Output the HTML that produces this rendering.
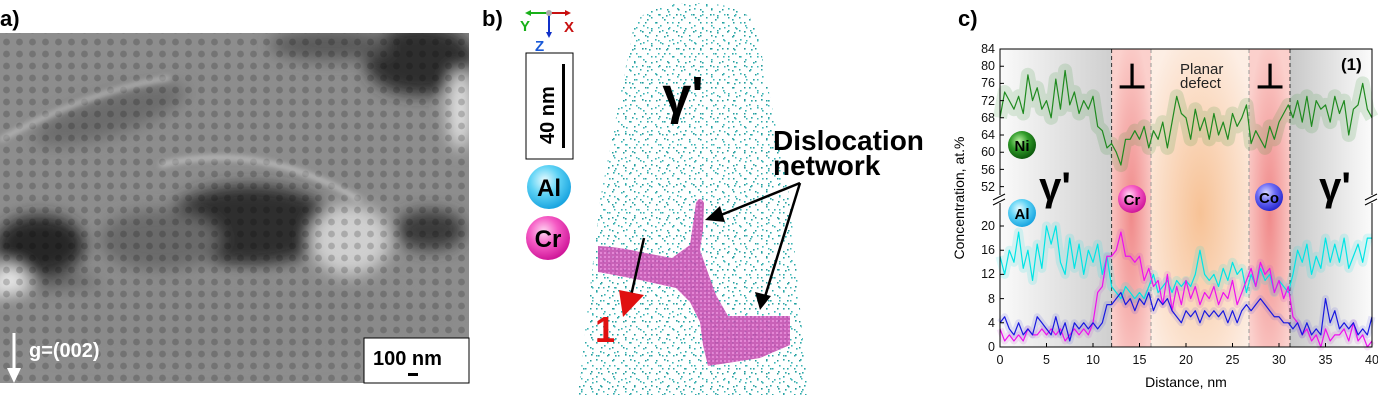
<!DOCTYPE html>
<html><head><meta charset="utf-8"><style>
html,body{margin:0;padding:0;background:#fff;}
svg{display:block;font-family:"Liberation Sans",Arial,sans-serif;}
</style></head><body>
<svg width="1378" height="403" viewBox="0 0 1378 403" xmlns="http://www.w3.org/2000/svg">
<defs>
 <filter id="bl" x="-50%" y="-50%" width="200%" height="200%"><feGaussianBlur stdDeviation="8"/></filter>
 <filter id="bl2" x="-50%" y="-50%" width="200%" height="200%"><feGaussianBlur stdDeviation="3"/></filter>
 <pattern id="pits" width="13" height="12" patternUnits="userSpaceOnUse">
  <circle cx="6.5" cy="6" r="3.4" fill="#000" opacity="0.18"/>
 </pattern>
 <pattern id="d1" width="17" height="17" patternUnits="userSpaceOnUse">
  <rect x="1" y="2" width="1.6" height="1.6" fill="#2aa7a7"/><rect x="9" y="5" width="1.6" height="1.6" fill="#3bb5b5"/>
  <rect x="5" y="11" width="1.6" height="1.6" fill="#2aa7a7"/><rect x="13" y="14" width="1.6" height="1.6" fill="#1f9a9a"/>
  <rect x="14" y="8" width="1.6" height="1.6" fill="#3bb5b5"/><rect x="3" y="15" width="1.6" height="1.6" fill="#2aa7a7"/>
 </pattern>
 <pattern id="d2" width="11" height="13" patternUnits="userSpaceOnUse">
  <rect x="2" y="4" width="1.5" height="1.5" fill="#2aa7a7"/><rect x="7" y="9" width="1.5" height="1.5" fill="#1f9a9a"/>
  <rect x="9" y="1" width="1.5" height="1.5" fill="#3bb5b5"/>
 </pattern>
 <pattern id="mesh" width="4" height="4" patternUnits="userSpaceOnUse">
  <rect width="4" height="4" fill="#c34fb0"/><rect width="2" height="2" fill="#e07ad0"/>
 </pattern>
 <radialGradient id="gAl" cx="40%" cy="35%" r="65%"><stop offset="0" stop-color="#e8fbff"/><stop offset="0.5" stop-color="#5fd3f5"/><stop offset="1" stop-color="#1aa5e0"/></radialGradient>
 <radialGradient id="gCr" cx="40%" cy="35%" r="65%"><stop offset="0" stop-color="#ffd8f3"/><stop offset="0.5" stop-color="#f55ac4"/><stop offset="1" stop-color="#d0189a"/></radialGradient>
 <radialGradient id="gNi" cx="40%" cy="35%" r="65%"><stop offset="0" stop-color="#b8f0a0"/><stop offset="0.5" stop-color="#2f9a28"/><stop offset="1" stop-color="#0c5a0c"/></radialGradient>
 <radialGradient id="gCo" cx="40%" cy="35%" r="65%"><stop offset="0" stop-color="#d8d8ff"/><stop offset="0.5" stop-color="#6a6af5"/><stop offset="1" stop-color="#2a2ad0"/></radialGradient>
 <linearGradient id="gl" x1="0" x2="1"><stop offset="0" stop-color="#fafafa"/><stop offset="1" stop-color="#cfcfcf"/></linearGradient>
 <linearGradient id="gr" x1="0" x2="1"><stop offset="0" stop-color="#c8c8c8"/><stop offset="1" stop-color="#fbfbfb"/></linearGradient>
 <radialGradient id="gpink" cx="50%" cy="55%" r="60%"><stop offset="0" stop-color="#f08a8a"/><stop offset="1" stop-color="#fbd0cc"/></radialGradient>
 <radialGradient id="gpeach" cx="50%" cy="55%" r="65%"><stop offset="0" stop-color="#f7c296"/><stop offset="1" stop-color="#fdeee4"/></radialGradient>
 <clipPath id="cone"><path d="M633,30 Q640,3 695,3 Q750,3 757,30 L790,200 L808,395 L578,395 L600,200 Z"/></clipPath>
 <clipPath id="pa"><rect x="0" y="33" width="469" height="350"/></clipPath>
</defs>

<!-- Panel a -->
<text x="0" y="26" font-size="22" font-weight="bold">a)</text>
<g clip-path="url(#pa)">
 <rect x="0" y="33" width="469" height="350" fill="#8d8d8d"/>
 <g filter="url(#bl)">
  <ellipse cx="420" cy="60" rx="55" ry="35" fill="#2e2e2e"/>
  <ellipse cx="330" cy="45" rx="60" ry="15" fill="#5a5a5a"/>
  <ellipse cx="460" cy="110" rx="12" ry="40" fill="#e0e0e0"/>
  <ellipse cx="110" cy="115" rx="80" ry="20" fill="#6c6c6c" transform="rotate(-18 110 115)"/>
  <ellipse cx="250" cy="225" rx="85" ry="40" fill="#2e2e2e"/>
  <ellipse cx="40" cy="245" rx="45" ry="30" fill="#252525"/>
  <ellipse cx="70" cy="290" rx="40" ry="12" fill="#1e1e1e"/>
  <ellipse cx="10" cy="290" rx="20" ry="25" fill="#e8e8e8"/>
  <ellipse cx="350" cy="240" rx="40" ry="35" fill="#cfcfcf"/>
  <ellipse cx="160" cy="240" rx="60" ry="30" fill="#6a6a6a"/>
  <ellipse cx="430" cy="230" rx="35" ry="20" fill="#3a3a3a"/>
  <ellipse cx="200" cy="320" rx="260" ry="40" fill="#8a8a8a"/>
 </g>
 <rect x="0" y="33" width="469" height="350" fill="url(#pits)"/>
 <path d="M0,140 Q90,90 170,78" stroke="#d0d0d0" stroke-width="3" fill="none" filter="url(#bl2)"/>
 <path d="M160,165 Q260,140 360,200" stroke="#d8d8d8" stroke-width="3" fill="none" filter="url(#bl2)"/>
</g>
<path d="M14,333 V380" stroke="#fff" stroke-width="3"/>
<path d="M7,368 L14,383 L21,368 Z" fill="#fff"/>
<text x="29" y="357" font-size="20" font-weight="bold" fill="#fff">g=(002)</text>
<rect x="364" y="338" width="105" height="45" fill="#fff" stroke="#000" stroke-width="1"/>
<text x="373" y="365" font-size="20" font-weight="bold">100 nm</text>
<rect x="408" y="373" width="10" height="3" fill="#000"/>

<!-- Panel b -->
<text x="482" y="26" font-size="22" font-weight="bold">b)</text>
<g stroke-width="2">
 <path d="M549,13 H528" stroke="#18b018"/><path d="M525,13 l6,-3 v6z" fill="#18b018"/>
 <path d="M549,13 H567" stroke="#c81010"/><path d="M571,13 l-6,-3 v6z" fill="#c81010"/>
 <path d="M549,13 V33" stroke="#1030c8"/><path d="M549,38 l-3,-6 h6z" fill="#1030c8"/>
 <circle cx="549" cy="13" r="3" fill="#aaa"/>
</g>
<text x="520" y="31" font-size="15" font-weight="bold" fill="#18b018">Y</text>
<text x="564" y="32" font-size="15" font-weight="bold" fill="#c81010">X</text>
<text x="535" y="51" font-size="15" font-weight="bold" fill="#1a5ad8">Z</text>
<rect x="526" y="53" width="47" height="106" fill="#fff" stroke="#000" stroke-width="1"/>
<rect x="562" y="64" width="3" height="84" fill="#000"/>
<text transform="translate(554,144) rotate(-90)" font-size="20" font-weight="bold">40 nm</text>
<circle cx="549" cy="187" r="22" fill="url(#gAl)"/>
<text x="549" y="196" font-size="24" font-weight="bold" text-anchor="middle">Al</text>
<circle cx="548" cy="238" r="22" fill="url(#gCr)"/>
<text x="548" y="247" font-size="24" font-weight="bold" text-anchor="middle">Cr</text>
<g clip-path="url(#cone)">
 <rect x="570" y="0" width="250" height="400" fill="url(#d1)"/>
 <rect x="570" y="0" width="250" height="400" fill="url(#d2)"/>
</g>
<path d="M598,246 Q620,247 640,252 L672,258 L690,245 L696,203 Q700,195 704,203 L703,230 L700,250 L707,270 L716,295 L728,316 L790,316 L790,345 L760,358 L708,366 L703,345 L700,322 L690,302 L676,288 L640,280 Q615,275 598,272 Z" fill="url(#mesh)" opacity="0.9"/>
<text x="683" y="113" font-size="52" font-weight="bold" text-anchor="middle">γ'</text>
<text x="773" y="150" font-size="28" font-weight="bold">Dislocation</text>
<text x="773" y="175" font-size="28" font-weight="bold">network</text>
<g stroke="#000" stroke-width="2.5" fill="none">
 <path d="M800,183 L716,217"/><path d="M800,183 L764,300"/><path d="M644,238 L631,296"/>
</g>
<path d="M705,220 L720,206 L725,222 Z" fill="#000"/>
<path d="M760,310 L755,292 L771,296 Z" fill="#000"/>
<path d="M623,317 L619,290 L644,295 Z" fill="#e01010"/>
<text x="595" y="342" font-size="36" font-weight="bold" fill="#e01010">1</text>

<!-- Panel c -->
<text x="958" y="26" font-size="22" font-weight="bold">c)</text>
<rect x="1000" y="49" width="111.6" height="298" fill="url(#gl)"/>
<rect x="1111.6" y="49" width="39.5" height="298" fill="url(#gpink)"/>
<rect x="1151" y="49" width="98" height="298" fill="url(#gpeach)"/>
<rect x="1249" y="49" width="41" height="298" fill="url(#gpink)"/>
<rect x="1290" y="49" width="82" height="298" fill="url(#gr)"/>
<g stroke-dasharray="4,3" stroke-width="1">
 <path d="M1111.6,49 V347" stroke="#333"/><path d="M1151,49 V347" stroke="#999"/>
 <path d="M1249,49 V347" stroke="#999"/><path d="M1290,49 V347" stroke="#333"/>
</g>
<g transform="translate(1000,49) scale(9.3,-4.3) translate(0,-84)" fill="none" stroke-linejoin="round">
 <polyline vector-effect="non-scaling-stroke" stroke="#2a8a2a" stroke-opacity="0.15" stroke-width="14" points="0,68 0.5,74 1,72 1.5,70 2,73 2.5,69 3,78 3.5,72 4,75 4.5,70 5,72 5.5,68 6,77 6.5,70 7,79 7.5,71 8,74 8.5,69 9,72 9.5,70 10,73 10.5,66 11,65 11.5,61 12,62 12.5,60 13,57 13.5,63 14,63 14.5,65 15,63 15.5,66 16,61 16.5,65 17,63 17.5,67 18,61 18.5,67 19,73 19.5,69 20,68 20.5,63 21,70 21.5,65 22,68 22.5,63 23,69 23.5,64 24,67 24.5,63 25,69 25.5,66 26,68 26.5,71 27,62 27.5,65 28,63 28.5,61 29,66 29.5,63 30,67 30.5,69 31,71 31.5,68 32,72 32.5,67 33,73 33.5,66 34,72 34.5,70 35,71 35.5,67 36,73 36.5,69 37,72 37.5,64 38,70 38.5,71 39,76 39.5,70 40,68"/>
 <polyline vector-effect="non-scaling-stroke" stroke="#1f8a1f" stroke-width="1.2" points="0,68 0.5,74 1,72 1.5,70 2,73 2.5,69 3,78 3.5,72 4,75 4.5,70 5,72 5.5,68 6,77 6.5,70 7,79 7.5,71 8,74 8.5,69 9,72 9.5,70 10,73 10.5,66 11,65 11.5,61 12,62 12.5,60 13,57 13.5,63 14,63 14.5,65 15,63 15.5,66 16,61 16.5,65 17,63 17.5,67 18,61 18.5,67 19,73 19.5,69 20,68 20.5,63 21,70 21.5,65 22,68 22.5,63 23,69 23.5,64 24,67 24.5,63 25,69 25.5,66 26,68 26.5,71 27,62 27.5,65 28,63 28.5,61 29,66 29.5,63 30,67 30.5,69 31,71 31.5,68 32,72 32.5,67 33,73 33.5,66 34,72 34.5,70 35,71 35.5,67 36,73 36.5,69 37,72 37.5,64 38,70 38.5,71 39,76 39.5,70 40,68"/>
</g>
<g transform="translate(1000,347) scale(9.3,-6.05)" fill="none" stroke-linejoin="round">
 <polyline vector-effect="non-scaling-stroke" stroke="#00e0e0" stroke-opacity="0.14" stroke-width="9" points="0,15 0.5,12 1,16 1.5,14 2,19 2.5,13 3,16 3.5,11 4,17 4.5,13 5,20 5.5,17 6,20 6.5,14 7,12 7.5,18 8,13 8.5,17 9,12 9.5,16 10,14 10.5,17 11,12 11.5,15 12,10 12.5,9 13,8 13.5,10 14,9 14.5,8 15,9 15.5,8 16,10 16.5,12 17,9 17.5,10 18,11 18.5,9 19,11 19.5,10 20,11 20.5,10 21,12 21.5,16 22,12 22.5,11 23,12 23.5,10 24,13 24.5,11 25,14 25.5,12 26,13 26.5,9 27,12 27.5,10 28,13 28.5,11 29,12 29.5,9 30,11 30.5,10 31,9 31.5,12 32,16 32.5,14 33,17 33.5,12 34,15 34.5,13 35,18 35.5,14 36,17 36.5,14 37,18 37.5,13 38,15 38.5,17 39,14 39.5,18 40,18"/>
 <polyline vector-effect="non-scaling-stroke" stroke="#c020d0" stroke-opacity="0.12" stroke-width="7" points="0,3 0.5,1 1,2 1.5,1 2,2 2.5,1 3,3 3.5,2 4,2 4.5,3 5,2 5.5,3 6,2 6.5,3 7,1 7.5,2 8,3 8.5,2 9,3 9.5,2 10,4 10.5,9 11,10 11.5,15 12,15 12.5,16 13,19 13.5,15 14,15 14.5,14 15,15 15.5,11 16,13 16.5,10 17,11 17.5,7 18,12 18.5,6 19,10 19.5,7 20,11 20.5,8 21,10 21.5,7 22,9 22.5,8 23,10 23.5,7 24,9 24.5,8 25,11 25.5,7 26,9 26.5,11 27,13 27.5,10 28,14 28.5,12 29,13 29.5,9 30,11 30.5,8 31,10 31.5,5 32,4 32.5,2 33,3 33.5,1 34,2 34.5,0 35,3 35.5,1 36,2 36.5,2 37,3 37.5,1 38,4 38.5,1 39,2 39.5,0 40,1"/>
 <polyline vector-effect="non-scaling-stroke" stroke="#3030e0" stroke-opacity="0.12" stroke-width="7" points="0,4 0.5,5 1,3 1.5,2 2,4 2.5,2 3,3 3.5,2 4,5 4.5,4 5,3 5.5,2 6,5 6.5,2 7,4 7.5,1 8,4 8.5,3 9,4 9.5,3 10,4 10.5,3 11,4 11.5,7 12,7 12.5,8 13,9 13.5,7 14,8 14.5,6 15,8 15.5,7 16,9 16.5,6 17,8 17.5,7 18,8 18.5,6 19,5 19.5,4 20,6 20.5,5 21,6 21.5,4 22,6 22.5,5 23,6 23.5,5 24,6 24.5,4 25,6 25.5,4 26,6 26.5,7 27,6 27.5,7 28,8 28.5,7 29,6 29.5,5 30,5 30.5,4 31,4 31.5,3 32,4 32.5,2 33,4 33.5,2 34,3 34.5,2 35,8 35.5,4 36,6 36.5,3 37,4 37.5,3 38,4 38.5,2 39,3 39.5,2 40,5"/>
 <polyline vector-effect="non-scaling-stroke" stroke="#00e5e5" stroke-width="1.2" points="0,15 0.5,12 1,16 1.5,14 2,19 2.5,13 3,16 3.5,11 4,17 4.5,13 5,20 5.5,17 6,20 6.5,14 7,12 7.5,18 8,13 8.5,17 9,12 9.5,16 10,14 10.5,17 11,12 11.5,15 12,10 12.5,9 13,8 13.5,10 14,9 14.5,8 15,9 15.5,8 16,10 16.5,12 17,9 17.5,10 18,11 18.5,9 19,11 19.5,10 20,11 20.5,10 21,12 21.5,16 22,12 22.5,11 23,12 23.5,10 24,13 24.5,11 25,14 25.5,12 26,13 26.5,9 27,12 27.5,10 28,13 28.5,11 29,12 29.5,9 30,11 30.5,10 31,9 31.5,12 32,16 32.5,14 33,17 33.5,12 34,15 34.5,13 35,18 35.5,14 36,17 36.5,14 37,18 37.5,13 38,15 38.5,17 39,14 39.5,18 40,18"/>
 <polyline vector-effect="non-scaling-stroke" stroke="#ee10ee" stroke-width="1.2" points="0,3 0.5,1 1,2 1.5,1 2,2 2.5,1 3,3 3.5,2 4,2 4.5,3 5,2 5.5,3 6,2 6.5,3 7,1 7.5,2 8,3 8.5,2 9,3 9.5,2 10,4 10.5,9 11,10 11.5,15 12,15 12.5,16 13,19 13.5,15 14,15 14.5,14 15,15 15.5,11 16,13 16.5,10 17,11 17.5,7 18,12 18.5,6 19,10 19.5,7 20,11 20.5,8 21,10 21.5,7 22,9 22.5,8 23,10 23.5,7 24,9 24.5,8 25,11 25.5,7 26,9 26.5,11 27,13 27.5,10 28,14 28.5,12 29,13 29.5,9 30,11 30.5,8 31,10 31.5,5 32,4 32.5,2 33,3 33.5,1 34,2 34.5,0 35,3 35.5,1 36,2 36.5,2 37,3 37.5,1 38,4 38.5,1 39,2 39.5,0 40,1"/>
 <polyline vector-effect="non-scaling-stroke" stroke="#1818e0" stroke-width="1.2" points="0,4 0.5,5 1,3 1.5,2 2,4 2.5,2 3,3 3.5,2 4,5 4.5,4 5,3 5.5,2 6,5 6.5,2 7,4 7.5,1 8,4 8.5,3 9,4 9.5,3 10,4 10.5,3 11,4 11.5,7 12,7 12.5,8 13,9 13.5,7 14,8 14.5,6 15,8 15.5,7 16,9 16.5,6 17,8 17.5,7 18,8 18.5,6 19,5 19.5,4 20,6 20.5,5 21,6 21.5,4 22,6 22.5,5 23,6 23.5,5 24,6 24.5,4 25,6 25.5,4 26,6 26.5,7 27,6 27.5,7 28,8 28.5,7 29,6 29.5,5 30,5 30.5,4 31,4 31.5,3 32,4 32.5,2 33,4 33.5,2 34,3 34.5,2 35,8 35.5,4 36,6 36.5,3 37,4 37.5,3 38,4 38.5,2 39,3 39.5,2 40,5"/>
</g>
<!-- axes frame -->
<g stroke="#000" stroke-width="1" fill="none">
 <path d="M1000,195 V49 H1372 V195"/>
 <path d="M1000,203 V347 H1372 V203"/>
 <path d="M993,200 l12,-6 M993,205 l12,-6 M1365,200 l12,-6 M1365,205 l12,-6"/>
</g>
<g stroke="#000" stroke-width="1">
 <path d="M1000,49 h4 M1000,66.2 h4 M1000,83.4 h4 M1000,100.6 h4 M1000,117.8 h4 M1000,135 h4 M1000,152.2 h4 M1000,169.4 h4 M1000,186.6 h4"/>
 <path d="M1000,347 h4 M1000,322.8 h4 M1000,298.6 h4 M1000,274.4 h4 M1000,250.2 h4 M1000,226 h4"/>
 <path d="M1000,347 v-4 M1046.5,347 v-4 M1093,347 v-4 M1139.5,347 v-4 M1186,347 v-4 M1232.5,347 v-4 M1279,347 v-4 M1325.5,347 v-4 M1372,347 v-4"/>
</g>
<g font-size="12.5" text-anchor="end" fill="#111">
 <text x="995" y="53">84</text><text x="995" y="70">80</text><text x="995" y="87">76</text><text x="995" y="105">72</text>
 <text x="995" y="122">68</text><text x="995" y="139">64</text><text x="995" y="156">60</text><text x="995" y="174">56</text><text x="995" y="191">52</text>
 <text x="995" y="230">20</text><text x="995" y="254">16</text><text x="995" y="278">12</text><text x="995" y="303">8</text>
 <text x="995" y="327">4</text><text x="995" y="351">0</text>
</g>
<g font-size="12.5" text-anchor="middle" fill="#111">
 <text x="1000" y="364">0</text><text x="1046.5" y="364">5</text><text x="1093" y="364">10</text><text x="1139.5" y="364">15</text>
 <text x="1186" y="364">20</text><text x="1232.5" y="364">25</text><text x="1279" y="364">30</text><text x="1325.5" y="364">35</text><text x="1372" y="364">40</text>
</g>
<text x="1186" y="387" font-size="14" text-anchor="middle">Distance, nm</text>
<text transform="translate(964,198) rotate(-90)" font-size="14" text-anchor="middle">Concentration, at.%</text>
<text x="1180" y="74" font-size="15" fill="#222">Planar</text>
<text x="1180" y="88" font-size="15" fill="#222">defect</text>
<text x="1132" y="88" font-size="34" font-weight="bold" text-anchor="middle">⊥</text>
<text x="1270" y="88" font-size="34" font-weight="bold" text-anchor="middle">⊥</text>
<text x="1341" y="70" font-size="17" font-weight="bold">(1)</text>
<text x="1055" y="200" font-size="40" font-weight="bold" text-anchor="middle">γ'</text>
<text x="1335" y="200" font-size="40" font-weight="bold" text-anchor="middle">γ'</text>
<circle cx="1022" cy="145" r="14" fill="url(#gNi)"/><text x="1022" y="151" font-size="15" font-weight="bold" text-anchor="middle">Ni</text>
<circle cx="1022" cy="213" r="14" fill="url(#gAl)"/><text x="1022" y="219" font-size="15" font-weight="bold" text-anchor="middle">Al</text>
<circle cx="1132" cy="199" r="14" fill="url(#gCr)"/><text x="1132" y="205" font-size="15" font-weight="bold" text-anchor="middle">Cr</text>
<circle cx="1269" cy="197" r="14" fill="url(#gCo)"/><text x="1269" y="203" font-size="15" font-weight="bold" text-anchor="middle">Co</text>
</svg>
</body></html>
